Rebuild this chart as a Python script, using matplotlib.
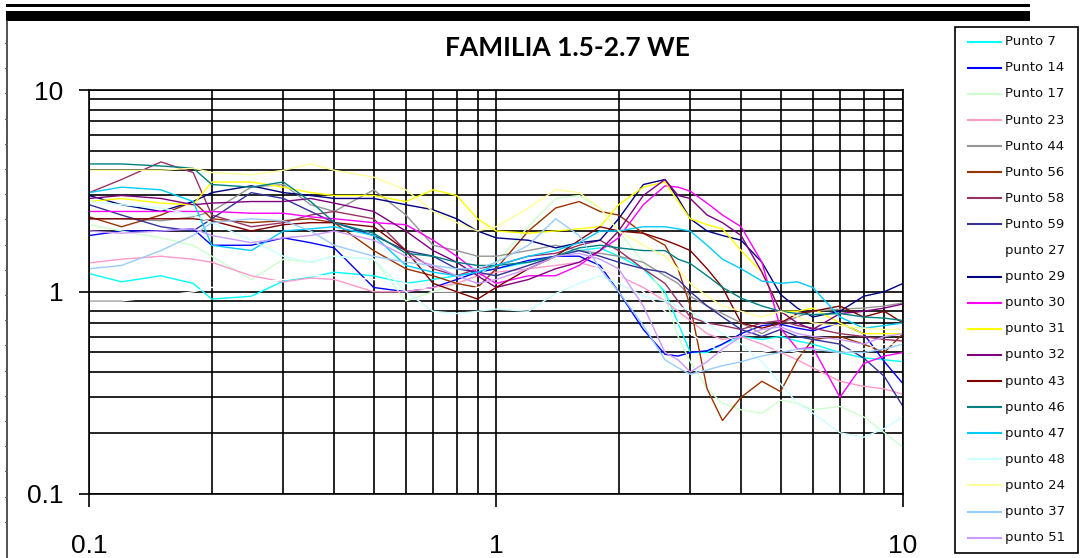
import matplotlib
matplotlib.use("Agg")
import matplotlib.pyplot as plt
from matplotlib.lines import Line2D
from matplotlib.patches import Rectangle
from matplotlib.ticker import LogLocator, NullFormatter

W, H = 1080, 558

# frequency axis shared by all series
freq = [0.1, 0.12, 0.15, 0.18, 0.2, 0.25, 0.3, 0.35, 0.4, 0.5, 0.6, 0.7, 0.8, 0.9,
        1.0, 1.2, 1.4, 1.6, 1.8, 2.0, 2.3, 2.6, 2.8, 3.0, 3.3, 3.6, 4.0, 4.5, 5.0,
        5.5, 6.0, 7.0, 8.0, 9.0, 10.0]

labels = ["Punto 7", "Punto 14", "Punto 17", "Punto 23", "Punto 44", "Punto 56",
          "Punto 58", "Punto 59", "punto 27", "punto 29", "punto 30", "punto 31",
          "punto 32", "punto 43", "punto 46", "punto 47", "punto 48", "punto 24",
          "punto 37", "punto 51"]

colors = ["#00FFFF", "#0000FF", "#CCFFCC", "#FF99CC", "#969696", "#993300",
          "#993366", "#333399", "#FFFFFF", "#000080", "#FF00FF", "#FFFF00",
          "#800080", "#800000", "#008080", "#00CCFF", "#CCFFFF", "#FFFF99",
          "#99CCFF", "#CC99FF"]

p7 = [1.23, 1.12, 1.2, 1.1, 0.92, 0.95, 1.13, 1.18, 1.25, 1.2, 1.1, 1.15, 1.2, 1.25,
      1.3, 1.4, 1.5, 1.6, 1.65, 1.5, 1.3, 1.0, 0.7, 0.5, 0.5, 0.55, 0.6, 0.58, 0.6,
      0.57, 0.55, 0.5, 0.47, 0.46, 0.45]
p14 = [1.9, 2.0, 2.0, 2.05, 1.7, 1.7, 1.85, 1.75, 1.65, 1.05, 1.0, 1.05, 1.15, 1.25,
       1.3, 1.43, 1.5, 1.5, 1.35, 1.0, 0.65, 0.49, 0.48, 0.5, 0.51, 0.55, 0.62, 0.68,
       0.69, 0.66, 0.64, 0.7, 0.62, 0.45, 0.35]
p17 = [2.15, 2.0, 1.85, 1.7, 1.5, 1.15, 1.45, 1.4, 1.5, 1.45, 0.9, 1.0, 1.1, 1.2,
       1.4, 2.1, 2.9, 3.0, 2.6, 2.0, 1.4, 0.95, 0.6, 0.45, 0.33, 0.28, 0.26, 0.25,
       0.29, 0.28, 0.26, 0.27, 0.24, 0.2, 0.17]
p23 = [1.39, 1.45, 1.5, 1.45, 1.4, 1.2, 1.12, 1.17, 1.15, 1.0, 1.0, 1.05, 1.1, 1.2,
       1.25, 1.3, 1.35, 1.4, 1.3, 1.2, 1.05, 0.9, 0.8, 0.72, 0.62, 0.58, 0.6, 0.55,
       0.5, 0.46, 0.42, 0.36, 0.34, 0.33, 0.31]
p44 = [2.3, 2.3, 2.25, 2.35, 2.5, 3.3, 3.4, 2.7, 2.5, 3.2, 2.4, 1.7, 1.6, 1.5,
       1.5, 1.6, 1.7, 1.6, 1.55, 1.5, 1.4, 1.2, 1.1, 0.95, 0.85, 0.78, 0.7, 0.62,
       0.7, 0.75, 0.8, 0.82, 0.83, 0.85, 0.88]
p56 = [2.35, 2.1, 2.4, 2.8, 2.3, 2.2, 2.25, 2.3, 2.2, 1.6, 1.3, 1.2, 1.1, 1.05,
       1.3, 2.0, 2.6, 2.8, 2.5, 2.4, 1.95, 1.7, 1.3, 0.85, 0.33, 0.23, 0.3, 0.36,
       0.32, 0.46, 0.58, 0.6, 0.55, 0.5, 0.62]
p58 = [3.1, 3.6, 4.4, 3.9, 2.4, 2.1, 2.2, 2.4, 2.5, 2.3, 1.6, 1.3, 1.2, 1.3,
       1.35, 1.5, 1.55, 1.7, 1.8, 1.6, 1.3, 1.1, 0.9, 0.75, 0.7, 0.68, 0.65, 0.7,
       0.72, 0.68, 0.66, 0.62, 0.6, 0.58, 0.57]
p59 = [2.7, 2.4, 2.1, 2.0, 2.3, 3.1, 2.9, 2.5, 2.2, 1.9, 1.6, 1.5, 1.3, 1.25,
       1.2, 1.35, 1.5, 1.6, 1.5, 1.4, 1.3, 1.25, 1.15, 1.0, 0.85, 0.75, 0.65, 0.6,
       0.65, 0.6, 0.58, 0.55, 0.47, 0.38, 0.27]
p27 = [0.9, 0.9, 0.95, 1.0, 1.05, 1.1, 1.15, 1.2, 1.2, 1.15, 1.1, 1.0, 1.0, 1.05,
       1.1, 1.2, 1.3, 1.35, 1.3, 1.2, 1.0, 0.8, 0.7, 0.62, 0.55, 0.5, 0.5, 0.5,
       0.52, 0.5, 0.48, 0.5, 0.52, 0.55, 0.55]
p29 = [3.0, 2.7, 2.5, 2.8, 3.1, 3.35, 3.1, 3.0, 2.9, 2.9, 2.7, 2.55, 2.3, 2.0,
       1.85, 1.8, 1.65, 1.75, 1.8, 2.3, 3.4, 3.6, 2.9, 2.3, 2.0, 1.9, 1.8, 1.4,
       0.97, 0.83, 0.75, 0.8, 0.95, 1.0, 1.1]
p30 = [2.5, 2.5, 2.5, 2.5, 2.5, 2.45, 2.45, 2.35, 2.3, 2.2, 2.15, 1.8, 1.5, 1.25,
       1.1, 1.2, 1.2, 1.35, 1.6, 1.85, 2.7, 3.35, 3.3, 3.15, 2.75, 2.4, 2.1, 1.4,
       0.66, 0.52, 0.53, 0.3, 0.44, 0.48, 0.5]
p31 = [2.8, 2.9, 2.75, 2.7, 3.5, 3.5, 3.3, 3.1, 3.0, 3.0, 2.8, 3.2, 3.0, 2.3,
       2.0, 1.95, 2.0, 2.05, 2.1, 2.7, 3.3, 3.5, 2.8, 2.3, 2.15, 2.05, 1.6, 1.25,
       0.8, 0.8, 0.83, 0.7, 0.62, 0.62, 0.62]
p32 = [2.9, 3.0, 2.9, 2.7, 2.75, 2.8, 2.8, 2.9, 2.75, 2.5, 2.0, 1.6, 1.4, 1.2,
       1.05, 1.15, 1.3, 1.4, 1.6, 2.0, 3.0, 3.6, 3.0, 2.9, 2.4, 2.2, 1.9, 1.25,
       0.8, 0.7, 0.65, 0.78, 0.8, 0.83, 0.87]
p43 = [2.3, 2.3, 2.3, 2.3, 2.25, 2.0, 2.15, 2.2, 2.2, 2.1, 1.6, 1.1, 1.0, 0.92,
       1.05, 1.3, 1.5, 1.8, 2.1, 2.0, 1.95, 1.8, 1.7, 1.6, 1.3, 1.05, 0.7, 0.66,
       0.7, 0.78, 0.8, 0.85, 0.75, 0.8, 0.7]
p46 = [4.3, 4.3, 4.2, 4.1, 3.4, 3.3, 3.5, 2.8, 2.2, 1.95, 1.55, 1.5, 1.4, 1.35,
       1.35, 1.4, 1.5, 1.65, 1.7, 1.65, 1.6, 1.6, 1.45, 1.38, 1.2, 1.05, 0.93, 0.85,
       0.8, 0.78, 0.77, 0.78, 0.75, 0.74, 0.72]
p47 = [3.1, 3.3, 3.2, 2.8, 1.7, 1.6, 2.0, 2.05, 2.1, 1.9, 1.35, 1.25, 1.2, 1.25,
       1.35, 1.5, 1.6, 1.75, 2.0, 2.0, 2.1, 2.1, 2.05, 2.0, 1.7, 1.45, 1.3, 1.13,
       1.1, 1.12, 1.05, 0.75, 0.66, 0.68, 0.7]
p48 = [2.8, 2.7, 2.6, 2.4, 2.2, 1.8, 1.5, 1.4, 1.5, 1.45, 1.0, 0.8, 0.78, 0.8,
       0.82, 0.8, 0.98, 1.1, 1.2, 1.1, 0.95, 0.9, 0.85, 0.8, 0.7, 0.62, 0.55, 0.45,
       0.35, 0.28, 0.25, 0.2, 0.19, 0.21, 0.24]
p24 = [4.0, 4.0, 4.0, 4.1, 3.9, 3.8, 4.0, 4.3, 4.0, 3.7, 3.2, 2.5, 2.2, 2.0,
       2.1, 2.6, 3.2, 3.1, 2.6, 2.0, 1.7, 1.5, 1.3, 1.1, 0.95, 0.85, 0.8, 0.75,
       0.8, 0.75, 0.7, 0.68, 0.66, 0.65, 0.65]
p37 = [1.3, 1.35, 1.6, 1.9, 2.2, 2.3, 2.25, 2.0, 1.7, 1.5, 1.4, 1.35, 1.3, 1.3,
       1.4, 1.7, 2.3, 1.9, 1.3, 1.0, 0.68, 0.46, 0.42, 0.39, 0.41, 0.43, 0.45, 0.48,
       0.5, 0.52, 0.52, 0.5, 0.5, 0.52, 0.55]
p51 = [2.0, 1.95, 2.0, 2.05, 1.9, 1.75, 1.85, 1.9, 2.0, 1.8, 1.5, 1.35, 1.2, 1.1,
       1.15, 1.3, 1.5, 1.55, 1.45, 1.3, 0.85, 0.5, 0.46, 0.4, 0.45, 0.52, 0.6, 0.65,
       0.67, 0.62, 0.6, 0.58, 0.55, 0.6, 0.62]

series = [p7, p14, p17, p23, p44, p56, p58, p59, p27, p29, p30, p31, p32, p43,
          p46, p47, p48, p24, p37, p51]


def fx(px):
    return px / W


def fy(py):
    return 1 - py / H


fig = plt.figure(figsize=(W / 100, H / 100), dpi=100)

# plot area
ax = fig.add_axes([fx(89.3), fy(493.5), fx(903) - fx(89.3), fy(90) - fy(493.5)])
for vals, c in zip(series, colors):
    ax.plot(freq, vals, color=c, lw=1.0)

ax.set_xscale("log")
ax.set_yscale("log")
ax.set_xlim(0.1, 10)
ax.set_ylim(0.1, 10)
ax.set_xticks([0.1, 1, 10])
ax.set_xticklabels(["0.1", "1", "10"])
ax.set_yticks([0.1, 1, 10])
ax.set_yticklabels(["0.1", "1", "10"])
for axis in (ax.xaxis, ax.yaxis):
    axis.set_minor_locator(LogLocator(base=10, subs=[2, 3, 4, 5, 6, 7, 8, 9], numticks=20))
    axis.set_minor_formatter(NullFormatter())
ax.set_axisbelow(True)
ax.grid(which="both", color="black", lw=1.2)
ax.tick_params(which="minor", length=0)
ax.tick_params(axis="y", which="major", length=7.5, width=1.2, pad=11,
               labelsize=19, direction="out")
ax.tick_params(axis="x", which="major", length=9, width=1.2, pad=20,
               labelsize=19, direction="out")
for lab in ax.get_xticklabels() + ax.get_yticklabels():
    lab.set_fontfamily("Liberation Sans")
for s in ax.spines.values():
    s.set_color("black")
    s.set_linewidth(1.2)

fig.text(fx(567), fy(48), "FAMILIA 1.5-2.7 WE", ha="center", va="center",
         fontsize=19, fontweight="bold", family="Lato")

# legend drawn by hand to match the boxed Excel legend
fig.add_artist(Rectangle((fx(955), fy(553)), fx(1078) - fx(955), fy(27) - fy(553),
                         transform=fig.transFigure, fill=False, ec="black", lw=1.2))
for i, (lab, c) in enumerate(zip(labels, colors)):
    yy = 41.7 + i * 26.1
    fig.add_artist(Line2D([fx(968), fx(1001)], [fy(yy), fy(yy)], color=c, lw=1.5,
                          transform=fig.transFigure))
    fig.text(fx(1005), fy(yy), lab, ha="left", va="center", fontsize=9.5,
             family="DejaVu Sans", color="#111111")

# page decoration: header rules and left margin line
fig.add_artist(Rectangle((fx(6), fy(7)), fx(1030) - fx(6), fy(4) - fy(7),
                         transform=fig.transFigure, color="black", lw=0))
fig.add_artist(Rectangle((fx(6), fy(21)), fx(1030) - fx(6), fy(11) - fy(21),
                         transform=fig.transFigure, color="black", lw=0))
fig.add_artist(Line2D([fx(7), fx(7)], [fy(21), fy(558)], color="#333333", lw=1.2,
                      transform=fig.transFigure))
for k in range(20):
    yy = 43 + k * 25.2
    fig.add_artist(Line2D([fx(4.5), fx(7)], [fy(yy), fy(yy)], color="#666666", lw=0.8,
                          transform=fig.transFigure))

fig.savefig("out.png", dpi=100)
